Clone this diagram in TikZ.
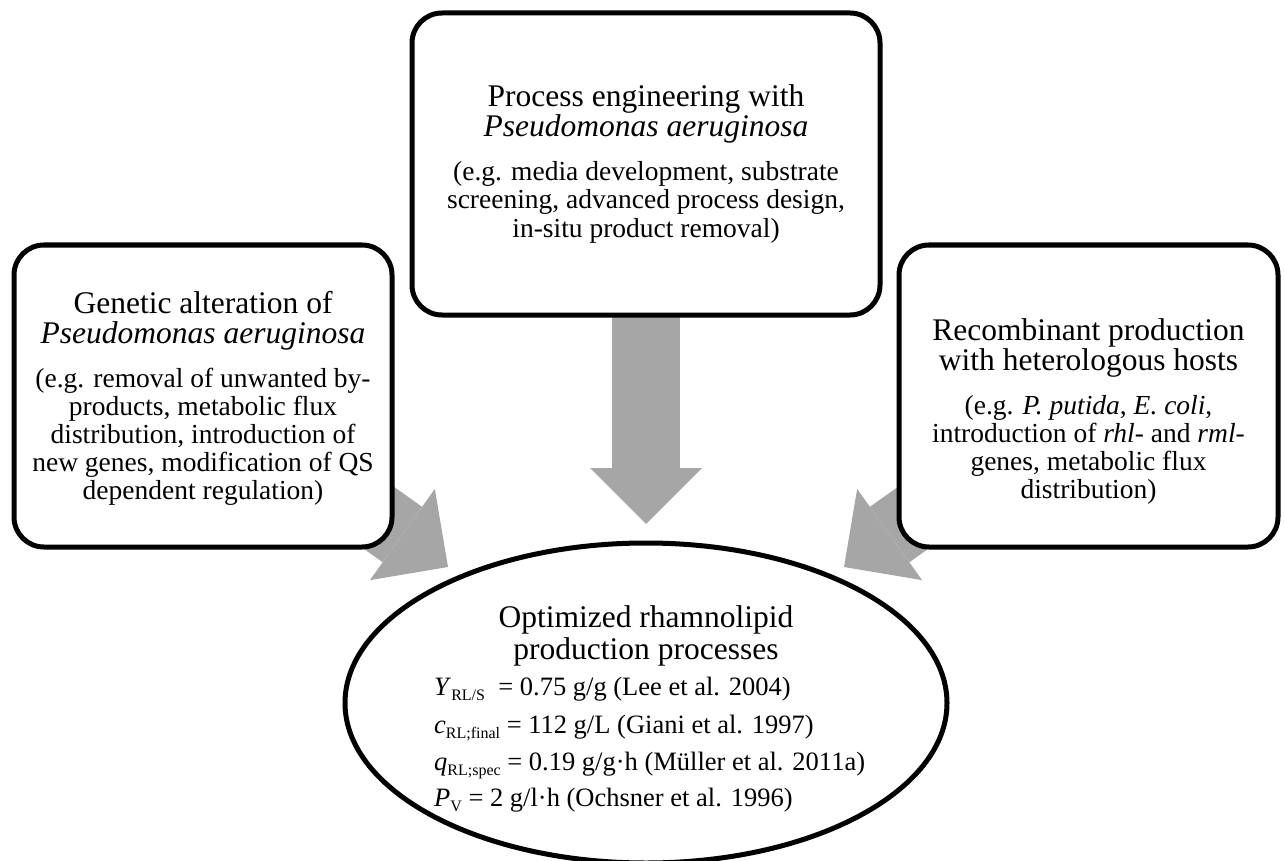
\documentclass[tikz,border=0pt]{standalone}
\usepackage{fontspec}
\setmainfont{Liberation Serif}
\usetikzlibrary{shapes.geometric,arrows.meta,backgrounds}
\definecolor{arrowgray}{RGB}{166,166,166}
\newcommand\ttlsize{\fontsize{31.5}{31.5}\selectfont}
\newcommand\bdysize{\fontsize{27.5}{28}\selectfont}
\newcommand\frmsize{\fontsize{26.5}{28}\selectfont}
\newcommand\lowsub[1]{\raisebox{-0.22em}{\fontsize{16}{16}\selectfont #1}}
\begin{document}
\begin{tikzpicture}[x=1pt,y=-1pt,
  box/.style={draw=black,line width=5pt,rounded corners=30pt,fill=white,inner sep=0pt,minimum height=302pt},
  goalshape/.style={draw=black,line width=5pt,ellipse,fill=white,inner sep=0pt,minimum width=602pt,minimum height=320pt},
  fatarrow/.style={draw=arrowgray,line width=68pt,-{Triangle[width=112pt,length=56pt,line width=0pt,fill=arrowgray]}},
  tline/.style={anchor=base,inner sep=0pt,font=\ttlsize},
  bline/.style={anchor=base,inner sep=0pt,font=\bdysize},
  fline/.style={anchor=base west,inner sep=0pt,font=\frmsize}]
\useasboundingbox (0,0) rectangle (1285,861);

% boxes
\node[box,minimum width=468pt] (top) at (646,164) {};
\node[box,minimum width=378pt] (left) at (203,396) {};
\node[box,minimum width=379pt] (right) at (1088.5,396) {};
\node[goalshape] (goal) at (646,703) {};

% arrow end points
\coordinate (ctip) at (646,524);
\coordinate (ltip) at (448,567);
\coordinate (rtip) at (844,567);
\coordinate (lstart) at (285,451);
\coordinate (rstart) at (1007,451);

\begin{scope}[on background layer]
  \draw[fatarrow] (top.center) -- (ctip);
  \draw[fatarrow] (lstart) -- (ltip);
  \draw[fatarrow] (rstart) -- (rtip);
\end{scope}

% top box text
\node[tline] (tt1) at (646,107) {Process engineering with};
\node[tline] (tt2) at (646,137) {\textit{Pseudomonas aeruginosa}};
\node[bline] (tb1) at (646,181) {(e.g. media development, substrate};
\node[bline] (tb2) at (646,209) {screening, advanced process design,};
\node[bline] (tb3) at (646,237) {in-situ product removal)};

% left box text
\node[tline] (lt1) at (203,313) {Genetic alteration of};
\node[tline] (lt2) at (203,343) {\textit{Pseudomonas aeruginosa}};
\node[bline] (lb1) at (203,387) {(e.g. removal of unwanted by-};
\node[bline] (lb2) at (203,415) {products, metabolic flux};
\node[bline] (lb3) at (203,443) {distribution, introduction of};
\node[bline] (lb4) at (203,471) {new genes, modification of QS};
\node[bline] (lb5) at (203,499) {dependent regulation)};

% right box text
\node[tline] (rt1) at (1088.5,340) {Recombinant production};
\node[tline] (rt2) at (1088.5,370) {with heterologous hosts};
\node[bline] (rb1) at (1088.5,414) {(e.g. \textit{P. putida}, \textit{E. coli},};
\node[bline] (rb2) at (1088.5,442) {introduction of \textit{rhl}- and \textit{rml}-};
\node[bline] (rb3) at (1088.5,470) {genes, metabolic flux};
\node[bline] (rb4) at (1088.5,498) {distribution)};

% ellipse text
\node[tline] (gt1) at (646,627) {Optimized rhamnolipid};
\node[tline] (gt2) at (646,659) {production processes};
\node[fline] (gf1) at (434,695) {\textit{Y}\lowsub{RL/S}\ \ = 0.75 g/g (Lee et al. 2004)};
\node[fline] (gf2) at (434,733) {\textit{c}\lowsub{RL;final} = 112 g/L (Giani et al. 1997)};
\node[fline] (gf3) at (434,770) {\textit{q}\lowsub{RL;spec} = 0.19 g/g·h (Müller et al. 2011a)};
\node[fline] (gf4) at (434,806) {\textit{P}\lowsub{V} = 2 g/l·h (Ochsner et al. 1996)};
\end{tikzpicture}
\end{document}
